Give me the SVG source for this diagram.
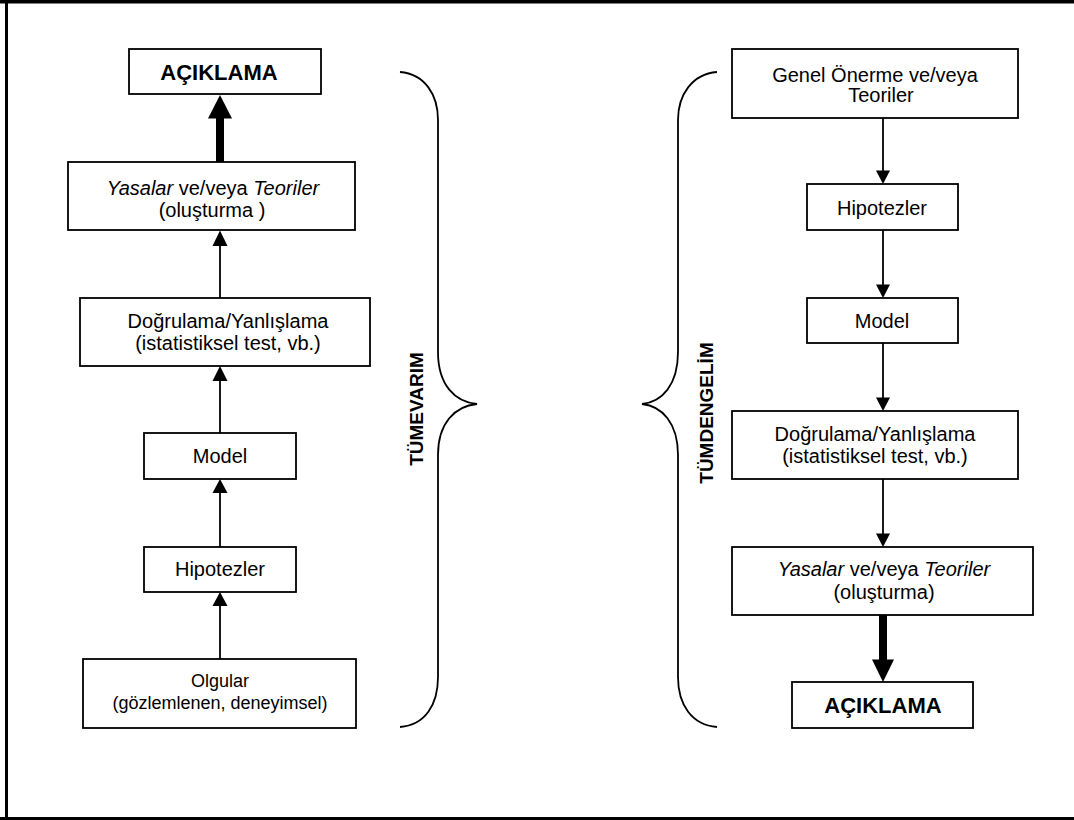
<svg xmlns="http://www.w3.org/2000/svg" width="1074" height="820" viewBox="0 0 1074 820">
<defs>
<style>
.box{fill:#fff;stroke:#000;stroke-width:1.8}
.t{font-family:"Liberation Sans",Arial,sans-serif;font-size:20px;fill:#000;text-anchor:middle}
.b{font-family:"Liberation Sans",Arial,sans-serif;font-weight:bold;font-size:22px;fill:#000;text-anchor:middle}
.lbl{font-family:"Liberation Sans",Arial,sans-serif;font-weight:bold;font-size:19px;fill:#000;text-anchor:middle}
.ln{stroke:#000;stroke-width:1.8;fill:none}
.thick{stroke:#000;stroke-width:8;fill:none}
.hd{fill:#000}
.brace{stroke:#000;stroke-width:1.8;fill:none}
</style>
</defs>
<rect width="1074" height="820" fill="#fff"/>
<g id="frame">
<line x1="0" y1="1.7" x2="1074" y2="1.7" stroke="#000" stroke-width="3.4"/>
<line x1="6.5" y1="0" x2="6.5" y2="820" stroke="#000" stroke-width="3"/>
<line x1="0" y1="818.5" x2="1074" y2="818.5" stroke="#000" stroke-width="3"/>
</g>

<g id="connectors">
<!-- left column (upward) -->
<line class="ln" x1="220" y1="659" x2="220" y2="604"/>
<polygon class="hd" points="220,592 212.5,606 227.5,606"/>
<line class="ln" x1="220" y1="547" x2="220" y2="491"/>
<polygon class="hd" points="220,479 212.5,493 227.5,493"/>
<line class="ln" x1="220" y1="433" x2="220" y2="378"/>
<polygon class="hd" points="220,366 212.5,381 227.5,381"/>
<line class="ln" x1="220" y1="298" x2="220" y2="243"/>
<polygon class="hd" points="220,230.5 212.5,246 227.5,246"/>
<line class="thick" x1="220" y1="162" x2="220" y2="115"/>
<polygon class="hd" points="220,95 208,118.5 232,118.5"/>
<!-- right column (downward) -->
<line class="ln" x1="883" y1="118" x2="883" y2="172"/>
<polygon class="hd" points="883,184 876,170.5 890,170.5"/>
<line class="ln" x1="883" y1="230" x2="883" y2="286"/>
<polygon class="hd" points="883,298 876,284.5 890,284.5"/>
<line class="ln" x1="883" y1="343" x2="883" y2="399"/>
<polygon class="hd" points="883,411 876,397.5 890,397.5"/>
<line class="ln" x1="883" y1="479" x2="883" y2="535"/>
<polygon class="hd" points="883,547 876,533.5 890,533.5"/>
<line class="thick" x1="883" y1="615" x2="883" y2="663"/>
<polygon class="hd" points="883,682 872,659.5 894,659.5"/>
</g>

<g id="braces">
<path class="brace" d="M400,72 C425,74 438,95 438,120 L438,352 C438,385 455,402 477,404 C455,406 438,423 438,455 L438,677 C438,705 425,725 400,727"/>
<path class="brace" d="M717,72 C692,74 678,95 678,120 L678,352 C678,385 662,402 642,404 C662,406 678,423 678,455 L678,677 C678,705 692,725 717,727"/>
</g>

<g id="label-tumevarim">
<text class="lbl" transform="translate(423,409) rotate(-90)">TÜMEVARIM</text>
</g>
<g id="label-tumdengelim">
<text class="lbl" transform="translate(713,413) rotate(-90)">TÜMDENGELİM</text>
</g>

<!-- Left column nodes -->
<g id="L-aciklama">
<rect class="box" x="129" y="49" width="192" height="45"/>
<text class="b" x="219" y="80">AÇIKLAMA</text>
</g>
<g id="L-yasalar">
<rect class="box" x="68" y="162" width="287" height="68"/>
<text class="t" x="213" y="195"><tspan font-style="italic">Yasalar</tspan> ve/veya  <tspan font-style="italic">Teoriler</tspan></text>
<text class="t" x="212" y="217">(oluşturma )</text>
</g>
<g id="L-dogrulama">
<rect class="box" x="80" y="298" width="290" height="68"/>
<text class="t" x="228" y="328">Doğrulama/Yanlışlama</text>
<text class="t" x="228" y="350">(istatistiksel test, vb.)</text>
</g>
<g id="L-model">
<rect class="box" x="144" y="433" width="152" height="46"/>
<text class="t" x="220" y="463">Model</text>
</g>
<g id="L-hipotezler">
<rect class="box" x="144" y="547" width="152" height="45"/>
<text class="t" x="220" y="576">Hipotezler</text>
</g>
<g id="L-olgular">
<rect class="box" x="83" y="659" width="273" height="69"/>
<text class="t" x="220" y="687" style="font-size:18px">Olgular</text>
<text class="t" x="220" y="709" style="font-size:18px">(gözlemlenen, deneyimsel)</text>
</g>

<!-- Right column nodes -->
<g id="R-genel">
<rect class="box" x="732" y="49" width="286" height="69"/>
<text class="t" x="875" y="82">Genel Önerme ve/veya</text>
<text class="t" x="881" y="102">Teoriler</text>
</g>
<g id="R-hipotezler">
<rect class="box" x="807" y="184" width="151" height="46"/>
<text class="t" x="882" y="215">Hipotezler</text>
</g>
<g id="R-model">
<rect class="box" x="807" y="298" width="151" height="45"/>
<text class="t" x="882" y="328">Model</text>
</g>
<g id="R-dogrulama">
<rect class="box" x="732" y="411" width="286" height="68"/>
<text class="t" x="875" y="441">Doğrulama/Yanlışlama</text>
<text class="t" x="875" y="463">(istatistiksel test, vb.)</text>
</g>
<g id="R-yasalar">
<rect class="box" x="732" y="547" width="301" height="68"/>
<text class="t" x="884" y="576"><tspan font-style="italic">Yasalar</tspan> ve/veya  <tspan font-style="italic">Teoriler</tspan></text>
<text class="t" x="884" y="599">(oluşturma)</text>
</g>
<g id="R-aciklama">
<rect class="box" x="792" y="682" width="181" height="46"/>
<text class="b" x="883" y="713">AÇIKLAMA</text>
</g>
</svg>
